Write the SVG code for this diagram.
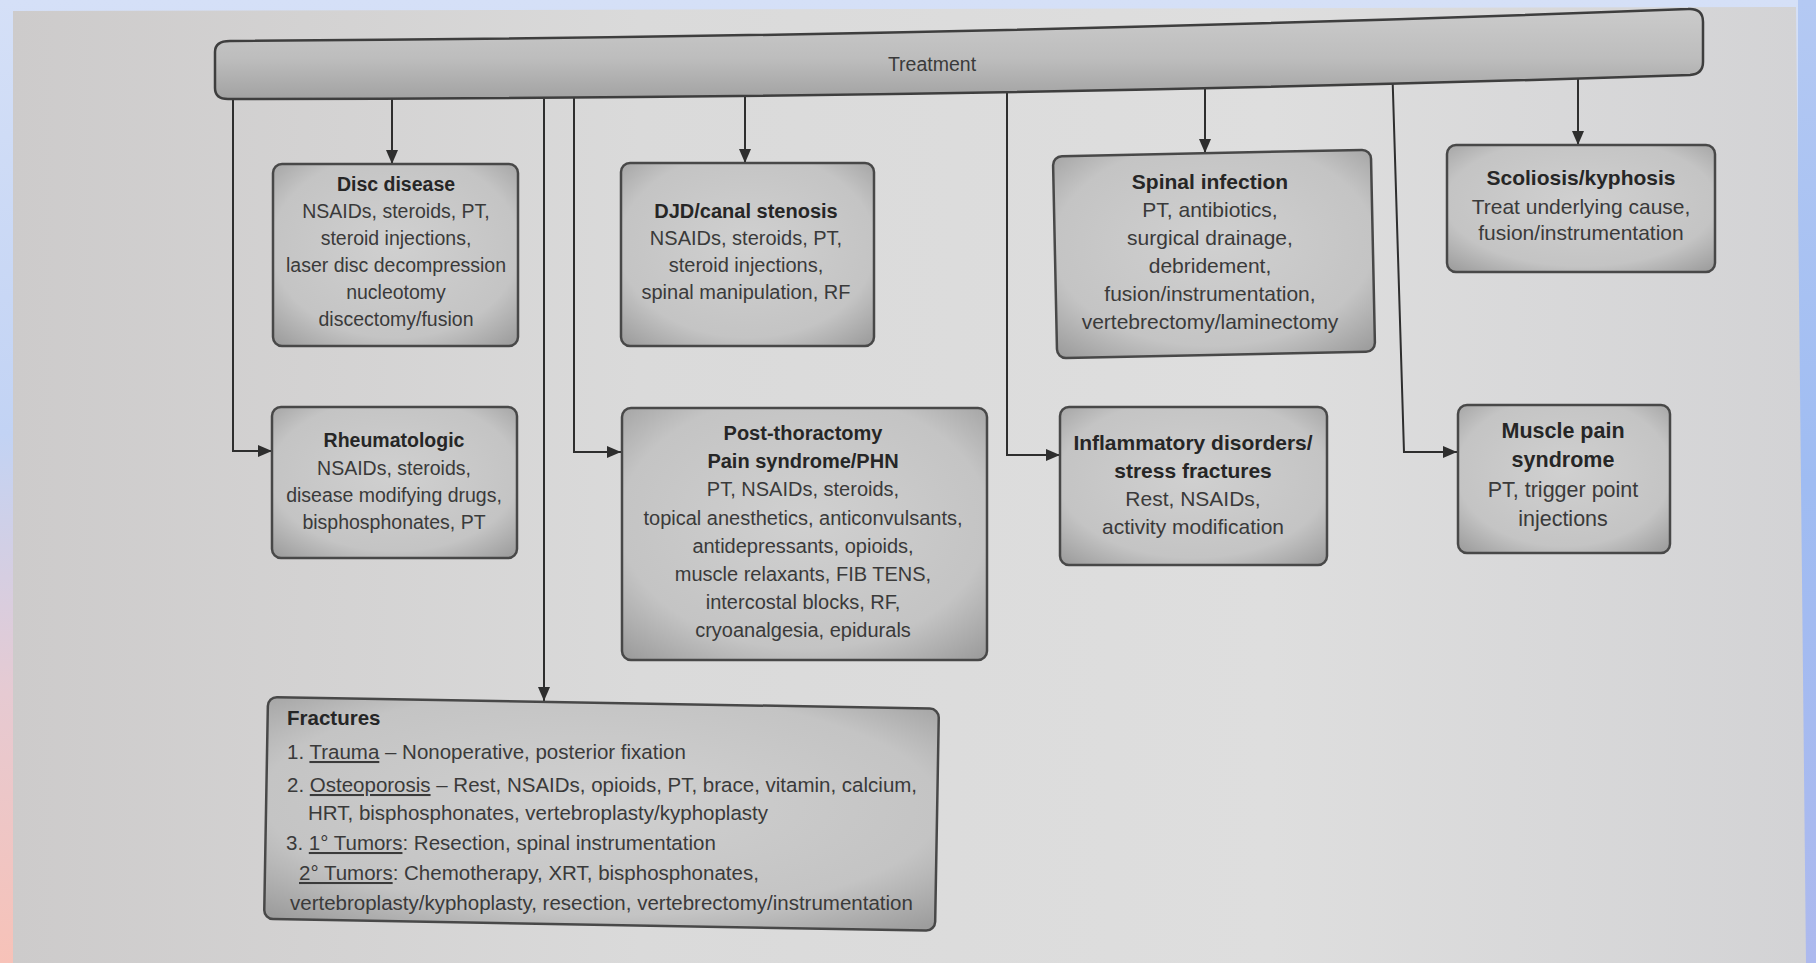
<svg xmlns="http://www.w3.org/2000/svg" width="1816" height="963" viewBox="0 0 1816 963">
  <defs>
    <linearGradient id="bgGrad" x1="0" y1="0" x2="0" y2="1">
      <stop offset="0" stop-color="#d5e0f7"/>
      <stop offset="0.45" stop-color="#c2d3f4"/>
      <stop offset="0.72" stop-color="#e6cad2"/>
      <stop offset="1" stop-color="#f7c2b8"/>
    </linearGradient>
    <linearGradient id="rightGrad" x1="0" y1="0" x2="0" y2="1">
      <stop offset="0" stop-color="#b4c9f3"/>
      <stop offset="0.5" stop-color="#9fbcf2"/>
      <stop offset="1" stop-color="#adb9ee"/>
    </linearGradient>
    <linearGradient id="pageGrad" x1="0" y1="0" x2="1" y2="0">
      <stop offset="0" stop-color="#cdcbcb"/>
      <stop offset="0.35" stop-color="#dadada"/>
      <stop offset="0.7" stop-color="#dedede"/>
      <stop offset="1" stop-color="#d3d3d5"/>
    </linearGradient>
    <linearGradient id="barGrad" x1="0" y1="0" x2="0" y2="1">
      <stop offset="0" stop-color="#cbcbcb"/>
      <stop offset="0.55" stop-color="#bdbdbd"/>
      <stop offset="1" stop-color="#a2a2a2"/>
    </linearGradient>
    <radialGradient id="boxGrad" cx="0.5" cy="0.45" r="0.72">
      <stop offset="0" stop-color="#d0d0d0"/>
      <stop offset="0.7" stop-color="#c4c4c4"/>
      <stop offset="1" stop-color="#9d9d9d"/>
    </radialGradient>
    <marker id="arrow" markerUnits="userSpaceOnUse" markerWidth="14" markerHeight="12" refX="14" refY="6" orient="auto">
      <path d="M0,0 L14,6 L0,12 Z" fill="#2e2e2e"/>
    </marker>
    <style>
      .box { fill: url(#boxGrad); stroke: #484848; stroke-width: 2.5; }
      .bar { fill: url(#barGrad); stroke: #3e3e3e; stroke-width: 2.5; }
      .conn { fill: none; stroke: #2e2e2e; stroke-width: 2; marker-end: url(#arrow); }
      text { font-family: "Liberation Sans", Arial, sans-serif; fill: #3a3a3a; }
      .c { text-anchor: middle; }
      .b { font-weight: bold; fill: #262626; }
    </style>
  </defs>

  <!-- photo surroundings and page -->
  <rect x="0" y="0" width="1816" height="963" fill="url(#bgGrad)"/>
  <rect x="1798" y="0" width="18" height="963" fill="url(#rightGrad)"/>
  <path d="M13,11 L1796,7 L1806,963 L13,963 Z" fill="url(#pageGrad)"/>

  <!-- connectors -->
  <g id="connectors">
    <path class="conn" d="M233,60 V451 H272"/>
    <path class="conn" d="M392,60 V164"/>
    <path class="conn" d="M544,60 V701"/>
    <path class="conn" d="M574,60 V452 H621"/>
    <path class="conn" d="M745,60 V163"/>
    <path class="conn" d="M1007,60 V455 H1060"/>
    <path class="conn" d="M1392,60 L1404,452 H1457"/>
    <path class="conn" d="M1205,60 V153"/>
    <path class="conn" d="M1578,60 V145"/>
  </g>

  <g id="treatment">
    <path class="bar" d="M230,41 Q958,37 1688,9 Q1703,8 1703,22 L1703,62 Q1703,74 1690,75 Q958,99 228,99 Q215,99 215,88 L215,52 Q215,41 230,41 Z"/>
    <text class="c" x="932" y="71" font-size="19.5">Treatment</text>
  </g>

  <g id="disc-disease" font-size="19.5">
    <rect class="box" x="273" y="164" width="245" height="182" rx="9"/>
    <text class="c b" x="396" y="191">Disc disease</text>
    <text class="c" x="396" y="218">NSAIDs, steroids, PT,</text>
    <text class="c" x="396" y="245">steroid injections,</text>
    <text class="c" x="396" y="272">laser disc decompression</text>
    <text class="c" x="396" y="299">nucleotomy</text>
    <text class="c" x="396" y="326">discectomy/fusion</text>
  </g>

  <g id="djd" font-size="20">
    <rect class="box" x="621" y="163" width="253" height="183" rx="9"/>
    <text class="c b" x="746" y="218">DJD/canal stenosis</text>
    <text class="c" x="746" y="245">NSAIDs, steroids, PT,</text>
    <text class="c" x="746" y="272">steroid injections,</text>
    <text class="c" x="746" y="299">spinal manipulation, RF</text>
  </g>

  <g id="spinal-infection" font-size="21">
    <rect class="box" x="1055" y="153" width="318" height="202" rx="9" transform="rotate(-1.2 1214 254)"/>
    <text class="c b" x="1210" y="189">Spinal infection</text>
    <text class="c" x="1210" y="217">PT, antibiotics,</text>
    <text class="c" x="1210" y="245">surgical drainage,</text>
    <text class="c" x="1210" y="273">debridement,</text>
    <text class="c" x="1210" y="301">fusion/instrumentation,</text>
    <text class="c" x="1210" y="329">vertebrectomy/laminectomy</text>
  </g>

  <g id="scoliosis" font-size="21">
    <rect class="box" x="1447" y="145" width="268" height="127" rx="9"/>
    <text class="c b" x="1581" y="185">Scoliosis/kyphosis</text>
    <text class="c" x="1581" y="214">Treat underlying cause,</text>
    <text class="c" x="1581" y="240">fusion/instrumentation</text>
  </g>

  <g id="rheumatologic" font-size="19.5">
    <rect class="box" x="272" y="407" width="245" height="151" rx="9"/>
    <text class="c b" x="394" y="447">Rheumatologic</text>
    <text class="c" x="394" y="475">NSAIDs, steroids,</text>
    <text class="c" x="394" y="502">disease modifying drugs,</text>
    <text class="c" x="394" y="529">bisphosphonates, PT</text>
  </g>

  <g id="post-thoractomy" font-size="20">
    <rect class="box" x="622" y="408" width="365" height="252" rx="9"/>
    <text class="c b" x="803" y="440">Post-thoractomy</text>
    <text class="c b" x="803" y="468">Pain syndrome/PHN</text>
    <text class="c" x="803" y="496">PT, NSAIDs, steroids,</text>
    <text class="c" x="803" y="525">topical anesthetics, anticonvulsants,</text>
    <text class="c" x="803" y="553">antidepressants, opioids,</text>
    <text class="c" x="803" y="581">muscle relaxants, FIB TENS,</text>
    <text class="c" x="803" y="609">intercostal blocks, RF,</text>
    <text class="c" x="803" y="637">cryoanalgesia, epidurals</text>
  </g>

  <g id="inflammatory" font-size="21">
    <rect class="box" x="1060" y="407" width="267" height="158" rx="9"/>
    <text class="c b" x="1193" y="450">Inflammatory disorders/</text>
    <text class="c b" x="1193" y="478">stress fractures</text>
    <text class="c" x="1193" y="506">Rest, NSAIDs,</text>
    <text class="c" x="1193" y="534">activity modification</text>
  </g>

  <g id="muscle-pain" font-size="21.5">
    <rect class="box" x="1458" y="405" width="212" height="148" rx="9"/>
    <text class="c b" x="1563" y="438">Muscle pain</text>
    <text class="c b" x="1563" y="467">syndrome</text>
    <text class="c" x="1563" y="497">PT, trigger point</text>
    <text class="c" x="1563" y="526">injections</text>
  </g>

  <g id="fractures" font-size="20.5">
    <rect class="box" x="268" y="697" width="671" height="222" rx="9" transform="rotate(1 268 697)"/>
    <text class="b" x="287" y="725">Fractures</text>
    <text x="287" y="759">1. <tspan text-decoration="underline">Trauma</tspan> – Nonoperative, posterior fixation</text>
    <text x="287" y="792">2. <tspan text-decoration="underline">Osteoporosis</tspan> – Rest, NSAIDs, opioids, PT, brace, vitamin, calcium,</text>
    <text x="308" y="820">HRT, bisphosphonates, vertebroplasty/kyphoplasty</text>
    <text x="286" y="850">3. <tspan text-decoration="underline">1° Tumors</tspan>: Resection, spinal instrumentation</text>
    <text x="299" y="880"><tspan text-decoration="underline">2° Tumors</tspan>: Chemotherapy, XRT, bisphosphonates,</text>
    <text x="290" y="910">vertebroplasty/kyphoplasty, resection, vertebrectomy/instrumentation</text>
  </g>
</svg>
